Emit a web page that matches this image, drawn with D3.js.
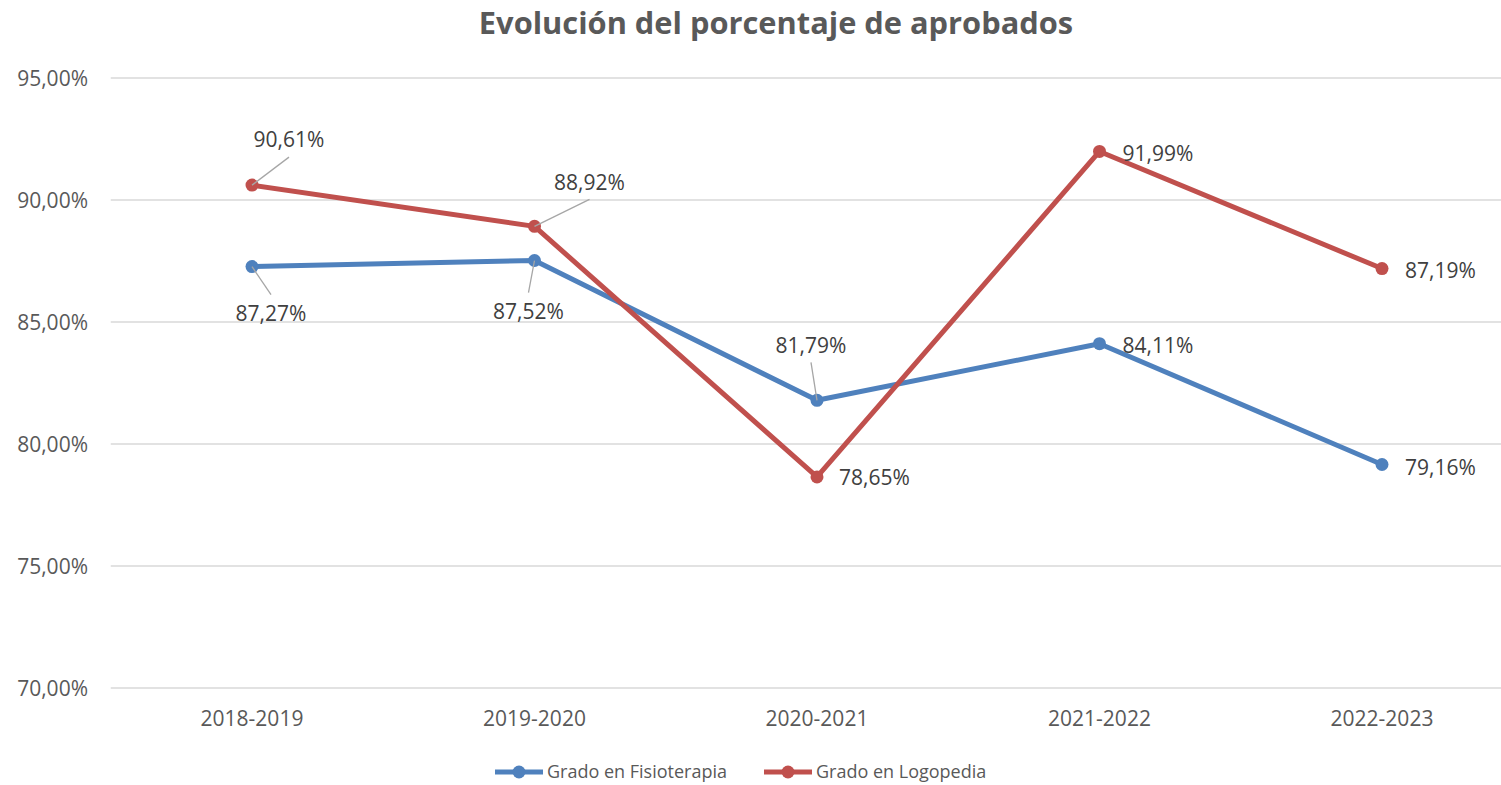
<!DOCTYPE html>
<html><head><meta charset="utf-8">
<script src="https://cdn.jsdelivr.net/npm/d3@7"></script>
<style>
body{margin:0;background:#fff;}
svg{display:block;font-family:"Open Sans",sans-serif;}
</style></head>
<body><svg id="chart" width="1501" height="785"></svg>
<script>
const categories = ["2018-2019","2019-2020","2020-2021","2021-2022","2022-2023"];
const fisioterapia = [87.27, 87.52, 81.79, 84.11, 79.16];
const logopedia = [90.61, 88.92, 78.65, 91.99, 87.19];
const yTicks = [70, 75, 80, 85, 90, 95];
const seriesNames = ["Grado en Fisioterapia","Grado en Logopedia"];
const colors = ["#4F81BD","#C0504D"];

// label placement (offsets from point): [dx, dy, anchor, leader]
const fisioLabelPos = [[19,47,"middle",true],[-6,51,"middle",true],[-6,-55,"middle",true],[23,2,"start",false],[23,3,"start",false]];
const logoLabelPos = [[37,-45,"middle",true],[55,-44,"middle",true],[22,1,"start",false],[23,2,"start",false],[23,2,"start",false]];

const svg = d3.select("#chart");
const left = 110.75, step = 282.5;
const x = d3.scalePoint().domain(categories).range([left + step/2, left + step*4.5]);
const y = d3.scaleLinear().domain([70,95]).range([688,78]);
const FS = 21;

// title
svg.append("text").attr("x",776).attr("y",34).attr("text-anchor","middle")
  .attr("font-size",30.8).attr("font-weight","bold").attr("fill","#595959")
  .text("Evolución del porcentaje de aprobados");

// grid
svg.append("g").selectAll("line").data(yTicks).join("line")
  .attr("x1",left).attr("x2",left+step*5).attr("y1",d=>y(d)).attr("y2",d=>y(d))
  .attr("stroke","#d9d9d9").attr("stroke-width",1.5);

// y labels
const fmt = v => v.toFixed(2).replace(".",",");
svg.append("g").selectAll("text").data(yTicks).join("text")
  .attr("x",88).attr("y",d=>y(d)+1).attr("dy","0.35em").attr("text-anchor","end")
  .attr("font-size",FS).attr("fill","#595959").text(d=>fmt(d)+"%");

// x labels
svg.append("g").selectAll("text").data(categories).join("text")
  .attr("x",d=>x(d)).attr("y",719).attr("dy","0.35em").attr("text-anchor","middle")
  .attr("font-size",FS).attr("fill","#595959").text(d=>d);

const series = [fisioterapia, logopedia];
const labelPos = [fisioLabelPos, logoLabelPos];
const line = d3.line().x((d,i)=>x(categories[i])).y(d=>y(d));

series.forEach((s,si)=>{
  const g = svg.append("g");
  g.append("path").datum(s).attr("d",line).attr("fill","none")
    .attr("stroke",colors[si]).attr("stroke-width",5).attr("stroke-linejoin","round");
  g.selectAll("circle").data(s).join("circle")
    .attr("cx",(d,i)=>x(categories[i])).attr("cy",d=>y(d)).attr("r",6.5).attr("fill",colors[si]);
});

series.forEach((s,si)=>{
  const g = svg.append("g");
  s.forEach((v,i)=>{
    const [dx,dy,anchor,leader] = labelPos[si][i];
    const px = x(categories[i]), py = y(v);
    const lx = px+dx, ly = py+dy;
    if(leader){
      const ey = dy<0 ? ly+17 : ly-19;
      g.append("line").attr("x1",px).attr("y1",py).attr("x2",lx).attr("y2",ey)
        .attr("stroke","#a6a6a6").attr("stroke-width",1.3);
    }
    g.append("text").attr("x",lx).attr("y",ly).attr("dy","0.35em").attr("text-anchor",anchor)
      .attr("font-size",FS).attr("fill","#404040").text(fmt(v)+"%");
  });
});

// legend
const legendItems = [{x:495},{x:764}];
seriesNames.forEach((n,i)=>{
  const g = svg.append("g").attr("transform",`translate(${legendItems[i].x},772)`);
  g.append("line").attr("x1",0).attr("x2",48).attr("stroke",colors[i]).attr("stroke-width",5);
  g.append("circle").attr("cx",24).attr("r",6.5).attr("fill",colors[i]);
  g.append("text").attr("x",52).attr("dy","0.35em").attr("font-size",18).attr("fill","#595959").text(n);
});
</script></body></html>
